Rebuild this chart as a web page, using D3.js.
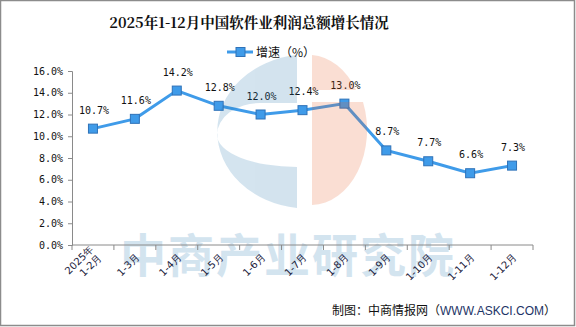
<!DOCTYPE html>
<html><head><meta charset="utf-8">
<script src="https://cdn.jsdelivr.net/npm/d3@7"></script>
<style>body{margin:0;background:#fff;}svg{display:block;}</style>
</head><body>
<script>
const categories = ["2025年\n1-2月","1-3月","1-4月","1-5月","1-6月","1-7月","1-8月","1-9月","1-10月","1-11月","1-12月"];
const growth = [10.7, 11.6, 14.2, 12.8, 12.0, 12.4, 13.0, 8.7, 7.7, 6.6, 7.3];
const yTicks = [0, 2, 4, 6, 8, 10, 12, 14, 16];
const title = "2025年1-12月中国软件业利润总额增长情况";
const legendLabel = "增速（%）";

const W = 576, H = 327;
const svg = d3.select("body").append("svg").attr("width", W).attr("height", H);
svg.append("rect").attr("x",0.5).attr("y",0.5).attr("width",W-2).attr("height",H-2).attr("fill","#fff").attr("stroke","#8c8c8c").attr("stroke-width",1.5);

const margin = {left:72, right:43, top:71, bottom:82};
const x = d3.scaleBand().domain(categories).range([72, 533]);
const y = d3.scaleLinear().domain([0,16]).range([245, 71]);

// watermark text
svg.append("text").attr("x", 288).attr("y", 272).attr("text-anchor","middle")
  .attr("font-family","Noto Sans CJK SC").attr("font-weight","bold").attr("font-size",46)
  .attr("letter-spacing", 2).attr("fill","#d3e4ef").text("中商产业研究院");

// axes
const yAxis = d3.axisLeft(y).tickValues(yTicks).tickSize(4).tickFormat(d => d.toFixed(1)+"%");
const ga = svg.append("g").attr("transform","translate(72,0)").call(yAxis);
ga.select(".domain").attr("stroke","#8a8a8a");
ga.selectAll(".tick line").attr("stroke","#8a8a8a");
ga.selectAll("text").attr("font-family","DejaVu Sans Mono").attr("font-size",10).attr("fill","#111").attr("dx",-2);

const gx = svg.append("g").attr("transform","translate(0,245)");
gx.append("line").attr("x1",72).attr("x2",533).attr("stroke","#8a8a8a");
const bounds = categories.map(c => x(c)).concat([x(categories[categories.length-1]) + x.bandwidth()]);
gx.selectAll("line.tk").data(bounds).join("line").attr("class","tk")
  .attr("x1",d=>d).attr("x2",d=>d).attr("y1",0).attr("y2",5).attr("stroke","#8a8a8a");

// x labels
categories.forEach(c => {
  const cx = x(c) + x.bandwidth()/2 + 5;
  const t = svg.append("text").attr("transform",`translate(${cx},258) rotate(-45)`)
    .attr("text-anchor","end").attr("font-family","DejaVu Sans").attr("font-size",10).attr("fill","#1a1a3a");
  const lines = c.split("\n");
  lines.forEach((l,i) => {
    t.append("tspan").attr("x", 0).attr("dy", i===0 ? 0 : 12).text(l);
  });
  if (lines.length > 1) t.attr("transform",`translate(${cx-4},250) rotate(-45)`);
});

// line
const color = "#3f9be9";
const line = d3.line().x((d,i)=>x(categories[i])+x.bandwidth()/2).y(d=>y(d));
svg.append("path").datum(growth).attr("d",line).attr("fill","none").attr("stroke",color).attr("stroke-width",3);
svg.selectAll("rect.m").data(growth).join("rect").attr("class","m")
  .attr("x",(d,i)=>x(categories[i])+x.bandwidth()/2-4.5).attr("y",d=>y(d)-4.5)
  .attr("width",9).attr("height",9).attr("fill",color).attr("stroke","#2f72b8").attr("stroke-width",1);

// data labels
svg.selectAll("text.lbl").data(growth).join("text").attr("class","lbl")
  .attr("x",(d,i)=>x(categories[i])+x.bandwidth()/2+1).attr("y",d=>y(d)-15)
  .attr("text-anchor","middle").attr("font-family","DejaVu Sans Mono").attr("font-size",10).attr("fill","#111")
  .text(d=>d.toFixed(1)+"%");

// logo watermark overlay
const wm = svg.append("g").attr("opacity",0.2);
// blue C
wm.append("path").attr("fill","#2a7ab0").attr("fill-rule","evenodd")
  .attr("d","M297,55 A90,77 0 0 0 297,208 Z M297,103 L260,103 A43,32 0 0 0 217,135 A80,32 0 0 0 297,167 Z");
// salmon half
wm.append("path").attr("fill","#e8602a")
  .attr("d","M312,55 A56,75 0 0 1 356,90 L312,90 Z M312,102 L363,102 A56,75 0 0 1 312,205 Z");

// title
svg.append("text").attr("x",249).attr("y",28).attr("text-anchor","middle")
  .attr("font-family","Noto Serif CJK SC, Noto Sans CJK SC").attr("font-weight","bold").attr("font-size",14.5).attr("fill","#111").text(title);

// legend
svg.append("line").attr("x1",227).attr("x2",253).attr("y1",52).attr("y2",52).attr("stroke",color).attr("stroke-width",3);
svg.append("rect").attr("x",236).attr("y",47.5).attr("width",9).attr("height",9).attr("fill",color).attr("stroke","#2f72b8");
svg.append("text").attr("x",256).attr("y",57).attr("font-family","Noto Sans CJK SC").attr("font-size",12).attr("fill","#111").text(legendLabel);

// footer
const ft = svg.append("text").attr("x",332).attr("y",315).attr("font-family","Noto Sans CJK SC").attr("font-size",12).attr("fill","#111");
ft.append("tspan").text("制图：中商情报网（");
ft.append("tspan").attr("fill","#1d3466").attr("font-family","Liberation Sans").text("WWW.ASKCI.COM");
ft.append("tspan").text("）");
</script>
</body></html>
